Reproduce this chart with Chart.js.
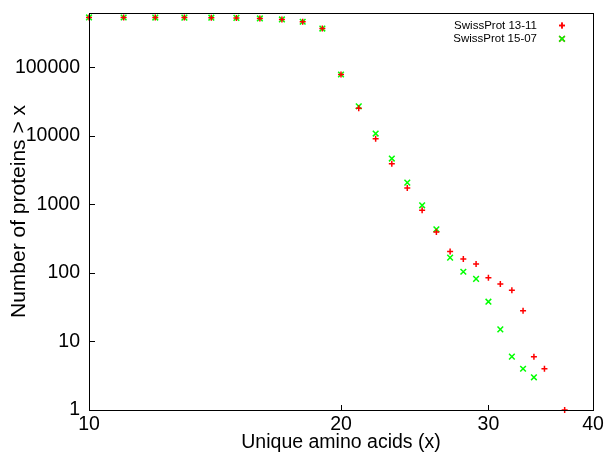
<!DOCTYPE html>
<html>
<head>
<meta charset="utf-8">
<script src="https://cdn.jsdelivr.net/npm/chart.js@4/dist/chart.umd.min.js"></script>
<style>
html,body{margin:0;padding:0;background:#fff;}
#wrap{width:609px;height:453px;position:relative;}
</style>
</head>
<body>
<div id="wrap"><canvas id="c" width="609" height="453"></canvas></div>
<script>
// ---- data ----
const seriesLabels = ['SwissProt 13-11', 'SwissProt 15-07'];
const aminoAcids1311 = [10,11,12,13,14,15,16,17,18,19,20,21,22,23,24,25,26,27,28,29,30,31,32,33,34,35,37];
const proteins1311   = [534000,533000,532000,531000,529000,526000,516000,499000,462000,368000,78500,25300,9040,3900,1740,820,397,205,160,135,85,69,56,28,6,4,1];
const aminoAcids1507 = [10,11,12,13,14,15,16,17,18,19,20,21,22,23,24,25,26,27,28,29,30,31,32,33,34];
const proteins1507   = [534000,533000,532000,531000,529000,526000,516000,499000,462000,368000,78500,27000,10800,4660,2080,970,433,167,104,82,38,15,6,4,3];
const xTickValues = [10,20,30,40];
const yTickValues = [1,10,100,1000,10000,100000];
const xTitle = 'Unique amino acids (x)';
const yTitle = 'Number of proteins > x';

const FONT = '"Liberation Sans", Arial, Helvetica, sans-serif';
Chart.defaults.font.family = FONT;
Chart.defaults.color = '#000';

const toPoints = (xs, ys) => xs.map((x, i) => ({x: x, y: ys[i]}));

// box + inward ticks, gnuplot style
const framePlugin = {
  id: 'frame',
  afterDraw(chart) {
    const {ctx, chartArea: a, scales} = chart;
    ctx.save();
    ctx.strokeStyle = '#000';
    ctx.lineWidth = 1;
    ctx.beginPath();
    xTickValues.forEach(v => {
      const px = Math.round(scales.x.getPixelForValue(v)) + 0.5;
      ctx.moveTo(px, a.bottom);
      ctx.lineTo(px, a.bottom - 5);
    });
    yTickValues.forEach(v => {
      const py = Math.round(scales.y.getPixelForValue(v)) + 0.5;
      ctx.moveTo(a.left, py);
      ctx.lineTo(a.left + 6, py);
    });
    ctx.stroke();
    ctx.strokeRect(Math.round(a.left) + 0.5, Math.round(a.top) + 0.5,
                   Math.round(a.right - a.left), Math.round(a.bottom - a.top));
    ctx.restore();
  }
};

// gnuplot style key: right-aligned text, sample marker at the right
const keyPlugin = {
  id: 'gpKey',
  afterDraw(chart) {
    const ctx = chart.ctx;
    const a = chart.chartArea;
    ctx.save();
    ctx.font = '11.5px ' + FONT;
    ctx.textAlign = 'right';
    ctx.textBaseline = 'middle';
    chart.data.datasets.forEach((ds, i) => {
      const y = a.top + 12.5 + i * 13.3;
      ctx.fillStyle = '#000';
      ctx.fillText(ds.label, a.right - 56, y);
      Chart.helpers.drawPoint(ctx, {
        pointStyle: ds.pointStyle,
        radius: ds.pointRadius,
        borderWidth: ds.borderWidth,
        rotation: 0
      }, a.right - 31, y);
      ctx.strokeStyle = ds.borderColor;
      ctx.lineWidth = ds.borderWidth;
      ctx.stroke();
    });
    ctx.restore();
  }
};

new Chart(document.getElementById('c'), {
  type: 'scatter',
  data: {
    datasets: [
      {
        label: seriesLabels[0],
        data: toPoints(aminoAcids1311, proteins1311),
        pointStyle: 'cross',
        pointRadius: 3,
        borderWidth: 1.5,
        borderColor: '#ff0000',
        backgroundColor: '#ff0000',
        clip: false
      },
      {
        label: seriesLabels[1],
        data: toPoints(aminoAcids1507, proteins1507),
        pointStyle: 'crossRot',
        pointRadius: 4,
        borderWidth: 1.5,
        borderColor: '#00ff00',
        backgroundColor: '#00ff00',
        clip: false
      }
    ]
  },
  options: {
    responsive: false,
    devicePixelRatio: 1,
    animation: false,
    events: [],
    layout: {padding: {top: 13, right: 16, left: 0, bottom: 0}},
    plugins: {legend: {display: false}, tooltip: {enabled: false}},
    scales: {
      x: {
        type: 'logarithmic',
        min: 10, max: 40,
        afterBuildTicks: s => { s.ticks = xTickValues.map(v => ({value: v})); },
        afterFit: s => { s.height = 43; s.paddingLeft = 0; s.paddingRight = 0; },
        grid: {display: false, tickLength: 0},
        border: {display: false},
        ticks: {
          autoSkip: false, maxRotation: 0, padding: 3,
          font: {size: 19.5}, color: '#000',
          callback: v => String(v)
        },
        title: {display: true, text: xTitle, font: {size: 19.5, lineHeight: 1.1}, color: '#000', padding: {top: 0, bottom: 0}}
      },
      y: {
        type: 'logarithmic',
        min: 1, max: 620000,
        afterBuildTicks: s => { s.ticks = yTickValues.map(v => ({value: v})); },
        afterFit: s => { s.width = 89; s.paddingTop = 0; s.paddingBottom = 0; },
        grid: {display: false, tickLength: 0},
        border: {display: false},
        ticks: {
          autoSkip: false, padding: 9,
          font: {size: 19.5}, color: '#000',
          callback: v => String(v)
        },
        title: {display: true, text: yTitle, font: {size: 21}, color: '#000', padding: {top: 7, bottom: 0}}
      }
    }
  },
  plugins: [framePlugin, keyPlugin]
});
</script>
</body>
</html>
